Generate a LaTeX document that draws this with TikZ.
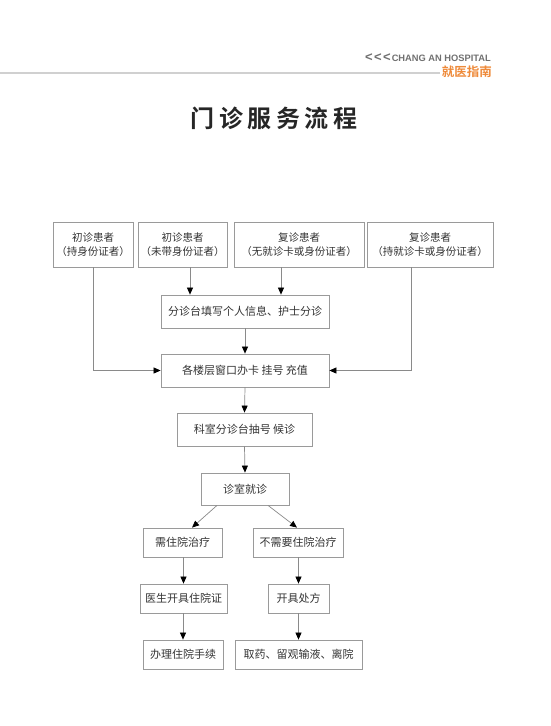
\documentclass[tikz,border=0pt]{standalone}
\usepackage{fontspec}
\setmainfont{Liberation Sans}
\newfontfamily\cjk{Noto Sans CJK SC}
\newfontfamily\cjkb{Noto Sans CJK SC Bold}
\newfontfamily\hdr{Liberation Sans}
\usetikzlibrary{arrows.meta}
\definecolor{linegray}{HTML}{8A8A8A}
\definecolor{boxgray}{HTML}{9A9A9A}
\definecolor{textgray}{HTML}{333333}
\definecolor{orangeh}{HTML}{EE8A3A}
\definecolor{rulegray}{HTML}{D0D0D0}
\definecolor{hdrgray}{HTML}{707070}
\begin{document}
\begin{tikzpicture}[x=1pt,y=-1pt,
  box/.style={draw=boxgray, line width=0.8pt, inner sep=0pt, text=textgray,
    font=\cjk\fontsize{11}{14}\selectfont, align=center, minimum height=30pt},
  topbox/.style={box, minimum height=45pt, font=\cjk\fontsize{10.5}{14}\selectfont},
  arr/.style={draw=linegray, line width=0.7pt, -{Triangle[width=6pt,length=7pt,fill=black,color=black]}},
  ln/.style={draw=linegray, line width=0.7pt}]
\useasboundingbox (0,0) rectangle (551,726);
% header
\node[anchor=east, text=hdrgray, font=\hdr\bfseries\fontsize{9.3}{10}\selectfont, inner sep=0pt] (hosp) at (491,57.5) {{\fontsize{13}{13}\selectfont\raisebox{-0.3pt}{<\hspace{1.5pt}<\hspace{1.5pt}<}}\hspace{1pt}CHANG AN HOSPITAL};
\node[anchor=east, text=orangeh, font=\cjkb\fontsize{12.5}{14}\selectfont, inner sep=0pt] (guide) at (492,72) {就医指南};
\coordinate (rl) at (0,73);
\draw[rulegray, line width=1.2pt] (rl) -- ([xshift=-2pt]guide.west |- rl);
% title
\node[text=black!85, font=\cjkb\fontsize{24}{28}\selectfont, inner sep=0pt] (title) at (274,118) {门\hspace{4.5pt}诊\hspace{4.5pt}服\hspace{4.5pt}务\hspace{4.5pt}流\hspace{4.5pt}程};
% top row
\node[topbox, minimum width=80pt] (b1) at (93,244.5) {初诊患者\\（持身份证者）};
\node[topbox, minimum width=89pt] (b2) at (182.5,244.5) {初诊患者\\（未带身份证者）};
\node[topbox, minimum width=130pt] (b3) at (299,244.5) {复诊患者\\（无就诊卡或身份证者）};
\node[topbox, minimum width=126pt] (b4) at (430,244.5) {复诊患者\\（持就诊卡或身份证者）};
% middle
\node[box, minimum width=168pt, minimum height=33pt] (fz) at (245,311.5) {分诊台填写个人信息、护士分诊};
\node[box, minimum width=168pt, minimum height=33pt] (bk) at (245,370.5) {各楼层窗口办卡\ 挂号\ 充值};
\node[box, minimum width=135pt, minimum height=33pt] (ks) at (244.5,429.5) {科室分诊台抽号 候诊};
\node[box, minimum width=88pt, minimum height=32pt] (zs) at (245,489) {诊室就诊};
% branches
\node[box, minimum width=79pt, minimum height=29pt] (zy) at (182.5,542.5) {需住院治疗};
\node[box, minimum width=90pt, minimum height=29pt] (bz) at (298,542.5) {不需要住院治疗};
\node[box, minimum width=87pt, minimum height=29pt] (yz) at (183.5,598.5) {医生开具住院证};
\node[box, minimum width=61pt, minimum height=29pt] (kj) at (298.5,598.5) {开具处方};
\node[box, minimum width=80pt, minimum height=29pt] (bl) at (183,654.5) {办理住院手续};
\node[box, minimum width=127pt, minimum height=29pt] (qy) at (298.5,654.5) {取药、留观输液、离院};
% connectors
\draw[arr] ([xshift=7.5pt]b2.south) -- ([xshift=7.5pt]b2.south |- fz.north);
\draw[arr] ([xshift=-18pt]b3.south) -- ([xshift=-18pt]b3.south |- fz.north);
\draw[arr] (b1.south) |- (bk.west);
\draw[arr] ([xshift=-19pt]b4.south) |- (bk.east);
\draw[arr] (fz.south) -- (bk.north);
\draw[arr] (bk.south) -- (ks.north);
\draw[arr] (ks.south) -- (zs.north);
\draw[arr] ([xshift=-28pt]zs.south) -- ([xshift=9.5pt]zy.north);
\draw[arr] ([xshift=23pt]zs.south) -- ([xshift=-1pt]bz.north);
\draw[arr] (zy.south -| yz.north) -- (yz.north);
\draw[arr] (yz.south -| bl.north) -- (bl.north);
\draw[arr] (bz.south -| kj.north) -- (kj.north);
\draw[arr] (kj.south) -- (qy.north);
\end{tikzpicture}
\end{document}
